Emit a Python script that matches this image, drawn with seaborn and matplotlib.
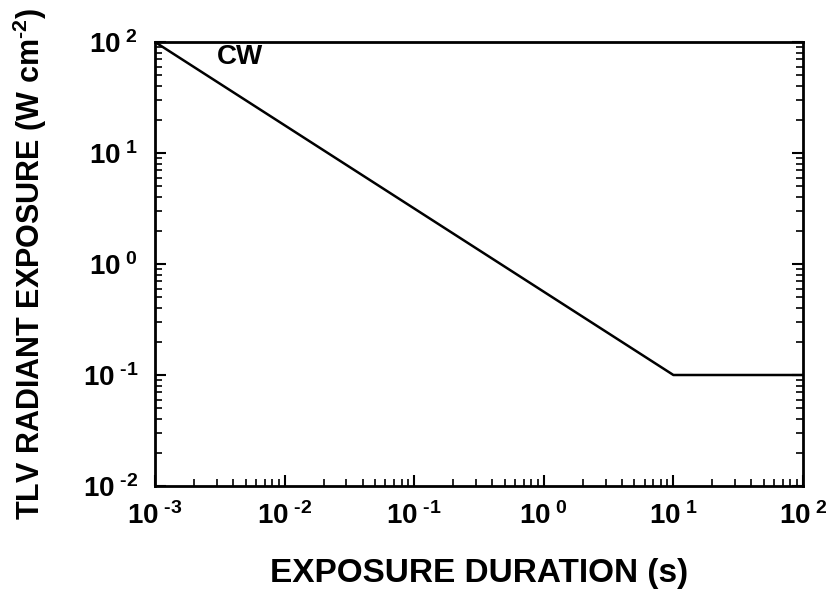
import matplotlib
matplotlib.use("Agg")
import matplotlib.pyplot as plt
import matplotlib.ticker as mticker
import seaborn as sns
import pandas as pd
import numpy as np

# Data
duration_s = [1e-3, 10.0, 100.0]
tlv_w_cm2 = [100.0, 0.1, 0.1]
x_ticks = [1e-3, 1e-2, 1e-1, 1e0, 1e1, 1e2]
x_tick_labels = ["-3", "-2", "-1", "0", "1", "2"]
y_ticks = [1e-2, 1e-1, 1e0, 1e1, 1e2]
y_tick_labels = ["-2", "-1", "0", "1", "2"]

sns.set_theme(style="white")
plt.rcParams['font.family'] = ['Liberation Sans', 'DejaVu Sans']
plt.rcParams['font.weight'] = 'bold'
plt.rcParams['text.color'] = 'black'
plt.rcParams['axes.labelcolor'] = 'black'
plt.rcParams['xtick.color'] = 'black'
plt.rcParams['ytick.color'] = 'black'
plt.rcParams['mathtext.fontset'] = 'custom'
plt.rcParams['mathtext.rm'] = 'Liberation Sans:bold'
plt.rcParams['mathtext.bf'] = 'Liberation Sans:bold'
plt.rcParams['mathtext.it'] = 'Liberation Sans:bold'
plt.rcParams['mathtext.default'] = 'rm'

HY = "\u2010"

def sup(s):
    return "$10^{\\ %s}$" % s.replace("-", HY)

df = pd.DataFrame({"t": duration_s, "y": tlv_w_cm2})

fig = plt.figure(figsize=(8.32, 5.92), dpi=100)
ax = fig.add_axes([155/832, 1-486/592, (803-155)/832, (486-42)/592])
sns.lineplot(data=df, x="t", y="y", ax=ax, color="black", linewidth=1.8)
ax.set_xscale("log")
ax.set_yscale("log")
ax.set_xlim(1e-3, 1e2)
ax.set_ylim(1e-2, 1e2)

ax.set_xticks(x_ticks)
ax.set_xticklabels([sup(s) for s in x_tick_labels])
ax.set_yticks(y_ticks)
ax.set_yticklabels([sup(s) for s in y_tick_labels])
ax.xaxis.set_minor_locator(mticker.LogLocator(base=10, subs=np.arange(2, 10), numticks=20))
ax.yaxis.set_minor_locator(mticker.LogLocator(base=10, subs=np.arange(2, 10), numticks=20))
ax.xaxis.set_minor_formatter(mticker.NullFormatter())
ax.yaxis.set_minor_formatter(mticker.NullFormatter())

ax.tick_params(axis="both", which="major", direction="in", length=8, width=1.5,
               labelsize=20, color="black", labelcolor="black")
ax.tick_params(axis="x", which="major", pad=12)
ax.tick_params(axis="y", which="major", pad=12)
ax.tick_params(axis="both", which="minor", direction="in", length=5, width=1.2, color="black")
ax.tick_params(axis="y", which="both", left=True, right=True)
ax.tick_params(axis="x", which="both", bottom=True, top=False)

for sp in ax.spines.values():
    sp.set_color("black")
    sp.set_linewidth(2.0)

ax.set_xlabel("EXPOSURE DURATION (s)", fontsize=24, fontweight="bold", labelpad=20)
ax.set_ylabel("TLV RADIANT EXPOSURE (W cm$^{" + HY + "2}$)", fontsize=22, fontweight="bold", labelpad=24)

ax.text(4.5e-3, 73, "CW", fontsize=20, fontweight="bold", ha="center", va="center")

fig.savefig("out.png", dpi=100)
